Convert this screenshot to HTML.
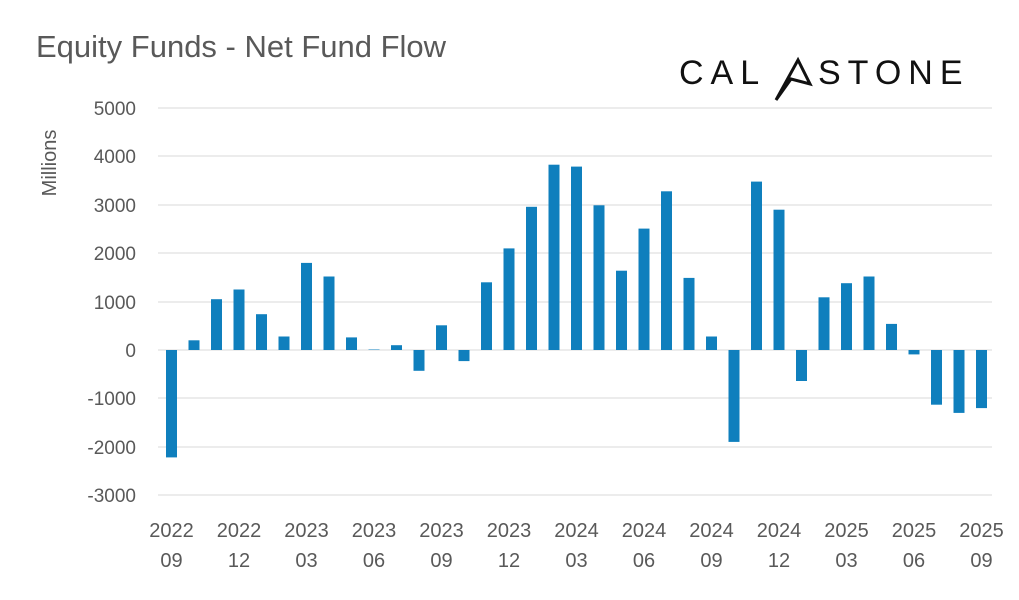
<!DOCTYPE html>
<html><head><meta charset="utf-8"><style>
body{margin:0;background:#fff;}
svg text{font-family:"Liberation Sans",sans-serif;}
</style></head><body>
<svg width="1019" height="595" xmlns="http://www.w3.org/2000/svg">
<rect width="1019" height="595" fill="#fff"/>
<text x="36" y="57" font-size="31" fill="#595959">Equity Funds - Net Fund Flow</text>
<text x="679" y="84" font-size="34" fill="#111" letter-spacing="7">CAL</text>
<path d="M776 100 L798 60 L810 84 L791 79 Z" fill="none" stroke="#111" stroke-width="3"/>
<text x="818" y="84" font-size="34" fill="#111" letter-spacing="7">STONE</text>
<g stroke="#d9d9d9" stroke-width="1">
<line x1="158" x2="992" y1="108" y2="108"/><line x1="158" x2="992" y1="156" y2="156"/>
<line x1="158" x2="992" y1="205" y2="205"/><line x1="158" x2="992" y1="253" y2="253"/>
<line x1="158" x2="992" y1="302" y2="302"/><line x1="158" x2="992" y1="350" y2="350"/>
<line x1="158" x2="992" y1="398" y2="398"/><line x1="158" x2="992" y1="447" y2="447"/>
<line x1="158" x2="992" y1="495" y2="495"/>
</g>
<g font-size="19" fill="#595959" text-anchor="end">
<text x="136" y="115">5000</text><text x="136" y="163">4000</text><text x="136" y="212">3000</text>
<text x="136" y="260">2000</text><text x="136" y="309">1000</text><text x="136" y="357">0</text>
<text x="136" y="405">-1000</text><text x="136" y="454">-2000</text><text x="136" y="502">-3000</text>
</g>
<text transform="translate(56,163) rotate(-90)" font-size="20" fill="#595959" text-anchor="middle">Millions</text>
<g fill="#0f7fbd">
<rect x="166" y="350" width="11" height="107.4"/>
<rect x="188.5" y="340.3" width="11" height="9.7"/>
<rect x="211" y="299.2" width="11" height="50.8"/>
<rect x="233.5" y="289.5" width="11" height="60.5"/>
<rect x="256" y="314.2" width="11" height="35.8"/>
<rect x="278.5" y="336.5" width="11" height="13.5"/>
<rect x="301" y="262.9" width="11" height="87.1"/>
<rect x="323.5" y="276.5" width="11" height="73.5"/>
<rect x="346" y="337.4" width="11" height="12.6"/>
<rect x="368.5" y="349.5" width="11" height="0.5"/>
<rect x="391" y="345.2" width="11" height="4.8"/>
<rect x="413.5" y="350" width="11" height="20.8"/>
<rect x="436" y="325.3" width="11" height="24.7"/>
<rect x="458.5" y="350" width="11" height="11.1"/>
<rect x="481" y="282.3" width="11" height="67.7"/>
<rect x="503.5" y="248.4" width="11" height="101.6"/>
<rect x="526" y="206.8" width="11" height="143.2"/>
<rect x="548.5" y="164.7" width="11" height="185.3"/>
<rect x="571" y="166.6" width="11" height="183.4"/>
<rect x="593.5" y="205.3" width="11" height="144.7"/>
<rect x="616" y="270.7" width="11" height="79.3"/>
<rect x="638.5" y="228.6" width="11" height="121.4"/>
<rect x="661" y="191.3" width="11" height="158.7"/>
<rect x="683.5" y="277.9" width="11" height="72.1"/>
<rect x="706" y="336.5" width="11" height="13.5"/>
<rect x="728.5" y="350" width="11" height="91.9"/>
<rect x="751" y="181.6" width="11" height="168.4"/>
<rect x="773.5" y="209.7" width="11" height="140.3"/>
<rect x="796" y="350" width="11" height="31"/>
<rect x="818.5" y="297.3" width="11" height="52.7"/>
<rect x="841" y="283.2" width="11" height="66.8"/>
<rect x="863.5" y="276.5" width="11" height="73.5"/>
<rect x="886" y="323.9" width="11" height="26.1"/>
<rect x="908.5" y="350" width="11" height="4.4"/>
<rect x="931" y="350" width="11" height="54.7"/>
<rect x="953.5" y="350" width="11" height="62.9"/>
<rect x="976" y="350" width="11" height="58.1"/>
</g>
<g font-size="20" fill="#595959" text-anchor="middle">
<text x="171.5" y="537">2022</text><text x="171.5" y="567">09</text>
<text x="239" y="537">2022</text><text x="239" y="567">12</text>
<text x="306.5" y="537">2023</text><text x="306.5" y="567">03</text>
<text x="374" y="537">2023</text><text x="374" y="567">06</text>
<text x="441.5" y="537">2023</text><text x="441.5" y="567">09</text>
<text x="509" y="537">2023</text><text x="509" y="567">12</text>
<text x="576.5" y="537">2024</text><text x="576.5" y="567">03</text>
<text x="644" y="537">2024</text><text x="644" y="567">06</text>
<text x="711.5" y="537">2024</text><text x="711.5" y="567">09</text>
<text x="779" y="537">2024</text><text x="779" y="567">12</text>
<text x="846.5" y="537">2025</text><text x="846.5" y="567">03</text>
<text x="914" y="537">2025</text><text x="914" y="567">06</text>
<text x="981.5" y="537">2025</text><text x="981.5" y="567">09</text>
</g>
</svg>
</body></html>
